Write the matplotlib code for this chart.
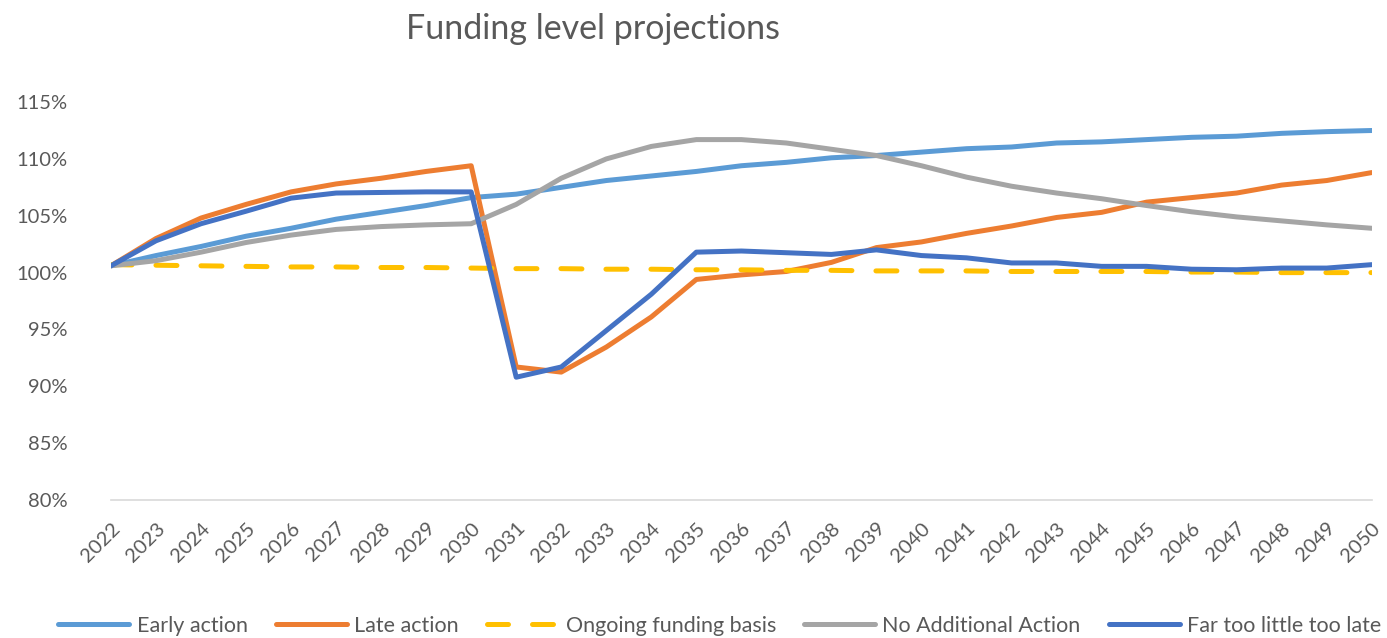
import numpy as np
import matplotlib.pyplot as plt
from matplotlib.ticker import FuncFormatter

plt.rcParams['font.family'] = ['Lato', 'DejaVu Sans']

years = list(range(2022, 2051))

early_action = [100.6, 101.5, 102.3, 103.2, 103.9, 104.7, 105.3, 105.9, 106.6,
                106.9, 107.5, 108.1, 108.5, 108.9, 109.4, 109.7, 110.1, 110.3,
                110.6, 110.9, 111.05, 111.4, 111.5, 111.7, 111.9, 112.0, 112.25,
                112.4, 112.5]
late_action = [100.6, 103.0, 104.8, 106.0, 107.1, 107.8, 108.3, 108.9, 109.4,
               91.7, 91.25, 93.45, 96.1, 99.4, 99.8, 100.1, 100.9, 102.2,
               102.7, 103.45, 104.1, 104.85, 105.3, 106.2, 106.6, 107.0, 107.7,
               108.1, 108.8]
ongoing_basis = [100.7, 100.65, 100.6, 100.55, 100.5, 100.5, 100.45, 100.45, 100.4,
                 100.35, 100.35, 100.3, 100.3, 100.25, 100.25, 100.2, 100.2, 100.15,
                 100.15, 100.15, 100.1, 100.1, 100.1, 100.1, 100.05, 100.05, 100.0,
                 100.0, 100.0]
no_additional = [100.6, 101.05, 101.8, 102.65, 103.3, 103.8, 104.05, 104.2, 104.3,
                 106.0, 108.3, 110.0, 111.1, 111.7, 111.7, 111.4, 110.85, 110.3,
                 109.4, 108.4, 107.6, 107.0, 106.5, 105.9, 105.35, 104.9, 104.55,
                 104.2, 103.9]
far_too_little = [100.6, 102.8, 104.3, 105.4, 106.55, 107.0, 107.05, 107.1, 107.1,
                  90.8, 91.7, 94.9, 98.1, 101.8, 101.9, 101.75, 101.6, 102.0,
                  101.5, 101.3, 100.85, 100.85, 100.55, 100.55, 100.3, 100.25, 100.4,
                  100.4, 100.7]

text_color = '#595959'
lw = 3.6

fig = plt.figure(figsize=(13.87, 6.38), dpi=100)
ax = fig.add_axes([0.080, 0.2163, 0.909, 0.6237])

ax.plot(years, early_action, color='#5B9BD5', lw=lw, label='Early action', solid_capstyle='round')
ax.plot(years, late_action, color='#ED7D31', lw=lw, label='Late action', solid_capstyle='round')
ax.plot(years, ongoing_basis, color='#FFC000', lw=lw, label='Ongoing funding basis',
        linestyle=(0, (4.2, 4.8)), dash_capstyle='round')
ax.plot(years, no_additional, color='#A5A5A5', lw=lw, label='No Additional Action', solid_capstyle='round')
ax.plot(years, far_too_little, color='#4472C4', lw=lw, label='Far too little too late', solid_capstyle='round')

ax.set_xlim(2022, 2050)
ax.set_ylim(80, 115)
ax.set_yticks(np.arange(80, 116, 5))
ax.yaxis.set_major_formatter(FuncFormatter(lambda v, p: f'{v:.0f}%'))
ax.set_xticks(years)
ax.set_xticklabels([str(y) for y in years], rotation=45, ha='right', rotation_mode='anchor')

for s in ['top', 'right', 'left']:
    ax.spines[s].set_visible(False)
ax.spines['bottom'].set_color('#D9D9D9')
ax.spines['bottom'].set_linewidth(1.2)
ax.tick_params(axis='both', length=0, colors=text_color, labelsize=14.5)
ax.tick_params(axis='y', pad=31)
ax.tick_params(axis='x', pad=14)

fig.text(0.4275, 0.955, 'Funding level projections', ha='center', va='center',
         fontsize=24.5, color=text_color)

leg = fig.legend(loc='center', bbox_to_anchor=(0.519, 0.019), ncol=5, frameon=False,
                 fontsize=15.5, handlelength=3.3, columnspacing=1.3, handletextpad=0.35)
for t in leg.get_texts():
    t.set_color(text_color)

fig.savefig('out.png', dpi=100)
